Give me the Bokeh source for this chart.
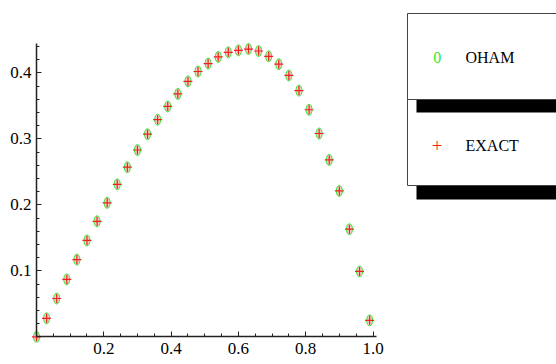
from bokeh.plotting import figure
from bokeh.models import Range1d, LinearAxis, FixedTicker, PrintfTickFormatter
from bokeh.embed import file_html
from bokeh.resources import INLINE
from bokeh.core.properties import value

# ---- data ----
x_vals = [0.00, 0.03, 0.06, 0.09, 0.12, 0.15, 0.18, 0.21, 0.24, 0.27, 0.30, 0.33,
          0.36, 0.39, 0.42, 0.45, 0.48, 0.51, 0.54, 0.57, 0.60, 0.63, 0.66, 0.69,
          0.72, 0.75, 0.78, 0.81, 0.84, 0.87, 0.90, 0.93, 0.96, 0.99]
oham = [0.000, 0.028, 0.058, 0.087, 0.117, 0.146, 0.175, 0.203, 0.231, 0.257, 0.283, 0.307,
        0.329, 0.349, 0.368, 0.387, 0.402, 0.414, 0.424, 0.431, 0.434, 0.436, 0.433, 0.425,
        0.413, 0.396, 0.373, 0.344, 0.308, 0.268, 0.221, 0.163, 0.099, 0.025]
exact = [0.000, 0.028, 0.058, 0.087, 0.117, 0.146, 0.175, 0.203, 0.231, 0.257, 0.283, 0.307,
         0.329, 0.349, 0.368, 0.387, 0.402, 0.414, 0.424, 0.431, 0.434, 0.436, 0.433, 0.425,
         0.413, 0.396, 0.373, 0.344, 0.308, 0.268, 0.221, 0.163, 0.099, 0.025]
x_ticks = [0.2, 0.4, 0.6, 0.8, 1.0]
y_ticks = [0.1, 0.2, 0.3, 0.4]
legend_labels = ["OHAM", "EXACT"]
legend_symbols = ["0", "+"]

# ---- layout ----
W, H = 556, 364
PX_X = 336.5   # pixels per x unit
PX_Y = 660.0   # pixels per y unit
X0 = -36.0 / PX_X
X1 = X0 + W / PX_X
Y1 = 336.3 / PX_Y
Y0 = Y1 - H / PX_Y

def cx(px):
    return X0 + px / PX_X

def cy(py):
    return Y1 - py / PX_Y

FONT = "Liberation Serif"
GREEN = "#2ee82e"
RED = "#f02020"

p = figure(width=W, height=H, x_range=Range1d(X0, X1), y_range=Range1d(Y0, Y1),
           output_backend="svg", toolbar_location=None, min_border=0,
           x_axis_type=None, y_axis_type=None)
p.outline_line_color = None
p.background_fill_color = "white"
p.border_fill_color = "white"

x_minor = [round(0.05 * i, 2) for i in range(1, 21) if i % 4 != 0]
y_minor = [round(0.02 * i, 2) for i in range(1, 23) if i % 5 != 0]

def style_axis(ax):
    ax.axis_line_color = "#222222"
    ax.axis_line_width = 1.5
    ax.major_tick_line_color = "#222222"
    ax.minor_tick_line_color = "#222222"
    ax.major_tick_in = 5
    ax.major_tick_out = 0
    ax.minor_tick_in = 3
    ax.minor_tick_out = 0
    ax.major_label_text_font = FONT
    ax.major_label_text_font_size = "17px"
    ax.major_label_text_color = "black"
    ax.formatter = PrintfTickFormatter(format="%.1f")

xaxis = LinearAxis(fixed_location=0, bounds=(0, 1.0104),
                   ticker=FixedTicker(ticks=x_ticks, minor_ticks=x_minor))
style_axis(xaxis)
xaxis.major_label_standoff = 6
p.add_layout(xaxis, "below")

yaxis = LinearAxis(fixed_location=0, bounds=(0, 0.4444),
                   ticker=FixedTicker(ticks=y_ticks, minor_ticks=y_minor))
style_axis(yaxis)
yaxis.major_label_standoff = 5
p.add_layout(yaxis, "left")

# ---- series ----
p.ellipse(x=x_vals, y=oham, width=6, height=11, width_units="screen", height_units="screen",
          fill_color="#f6c4c4", fill_alpha=0.9, line_color=GREEN, line_width=1.0)
p.scatter(x=x_vals, y=exact, marker="cross", size=9, line_color=RED, line_width=1.2)

# ---- legend (boxes with drop shadows) ----
bx_l, bx_r = cx(407), cx(575)
sh_l = cx(416)
p.quad(left=[sh_l], right=[bx_r], top=[cy(112)], bottom=[cy(199)], fill_color="black", line_color=None)
p.quad(left=[bx_l], right=[bx_r], top=[cy(99)], bottom=[cy(185)], fill_color="white",
       line_color="#444444", line_width=1)
p.quad(left=[sh_l], right=[bx_r], top=[cy(26)], bottom=[cy(112)], fill_color="black", line_color=None)
p.quad(left=[bx_l], right=[bx_r], top=[cy(13)], bottom=[cy(99)], fill_color="white",
       line_color="#444444", line_width=1)

p.text(x=[cx(436.7)], y=[cy(57)], text=[legend_symbols[0]], text_color=GREEN,
       text_font=value(FONT), text_font_size="16px", text_align="center", text_baseline="middle")
p.text(x=[cx(436.7)], y=[cy(145)], text=[legend_symbols[1]], text_color="#ff1a1a",
       text_font=value(FONT), text_font_size="19px", text_align="center", text_baseline="middle")
p.text(x=[cx(465), cx(465)], y=[cy(57), cy(145)], text=legend_labels, text_color="black",
       text_font=value(FONT), text_font_size="16px", text_align="left", text_baseline="middle")

open("out.html", "w").write(file_html(p, INLINE))
